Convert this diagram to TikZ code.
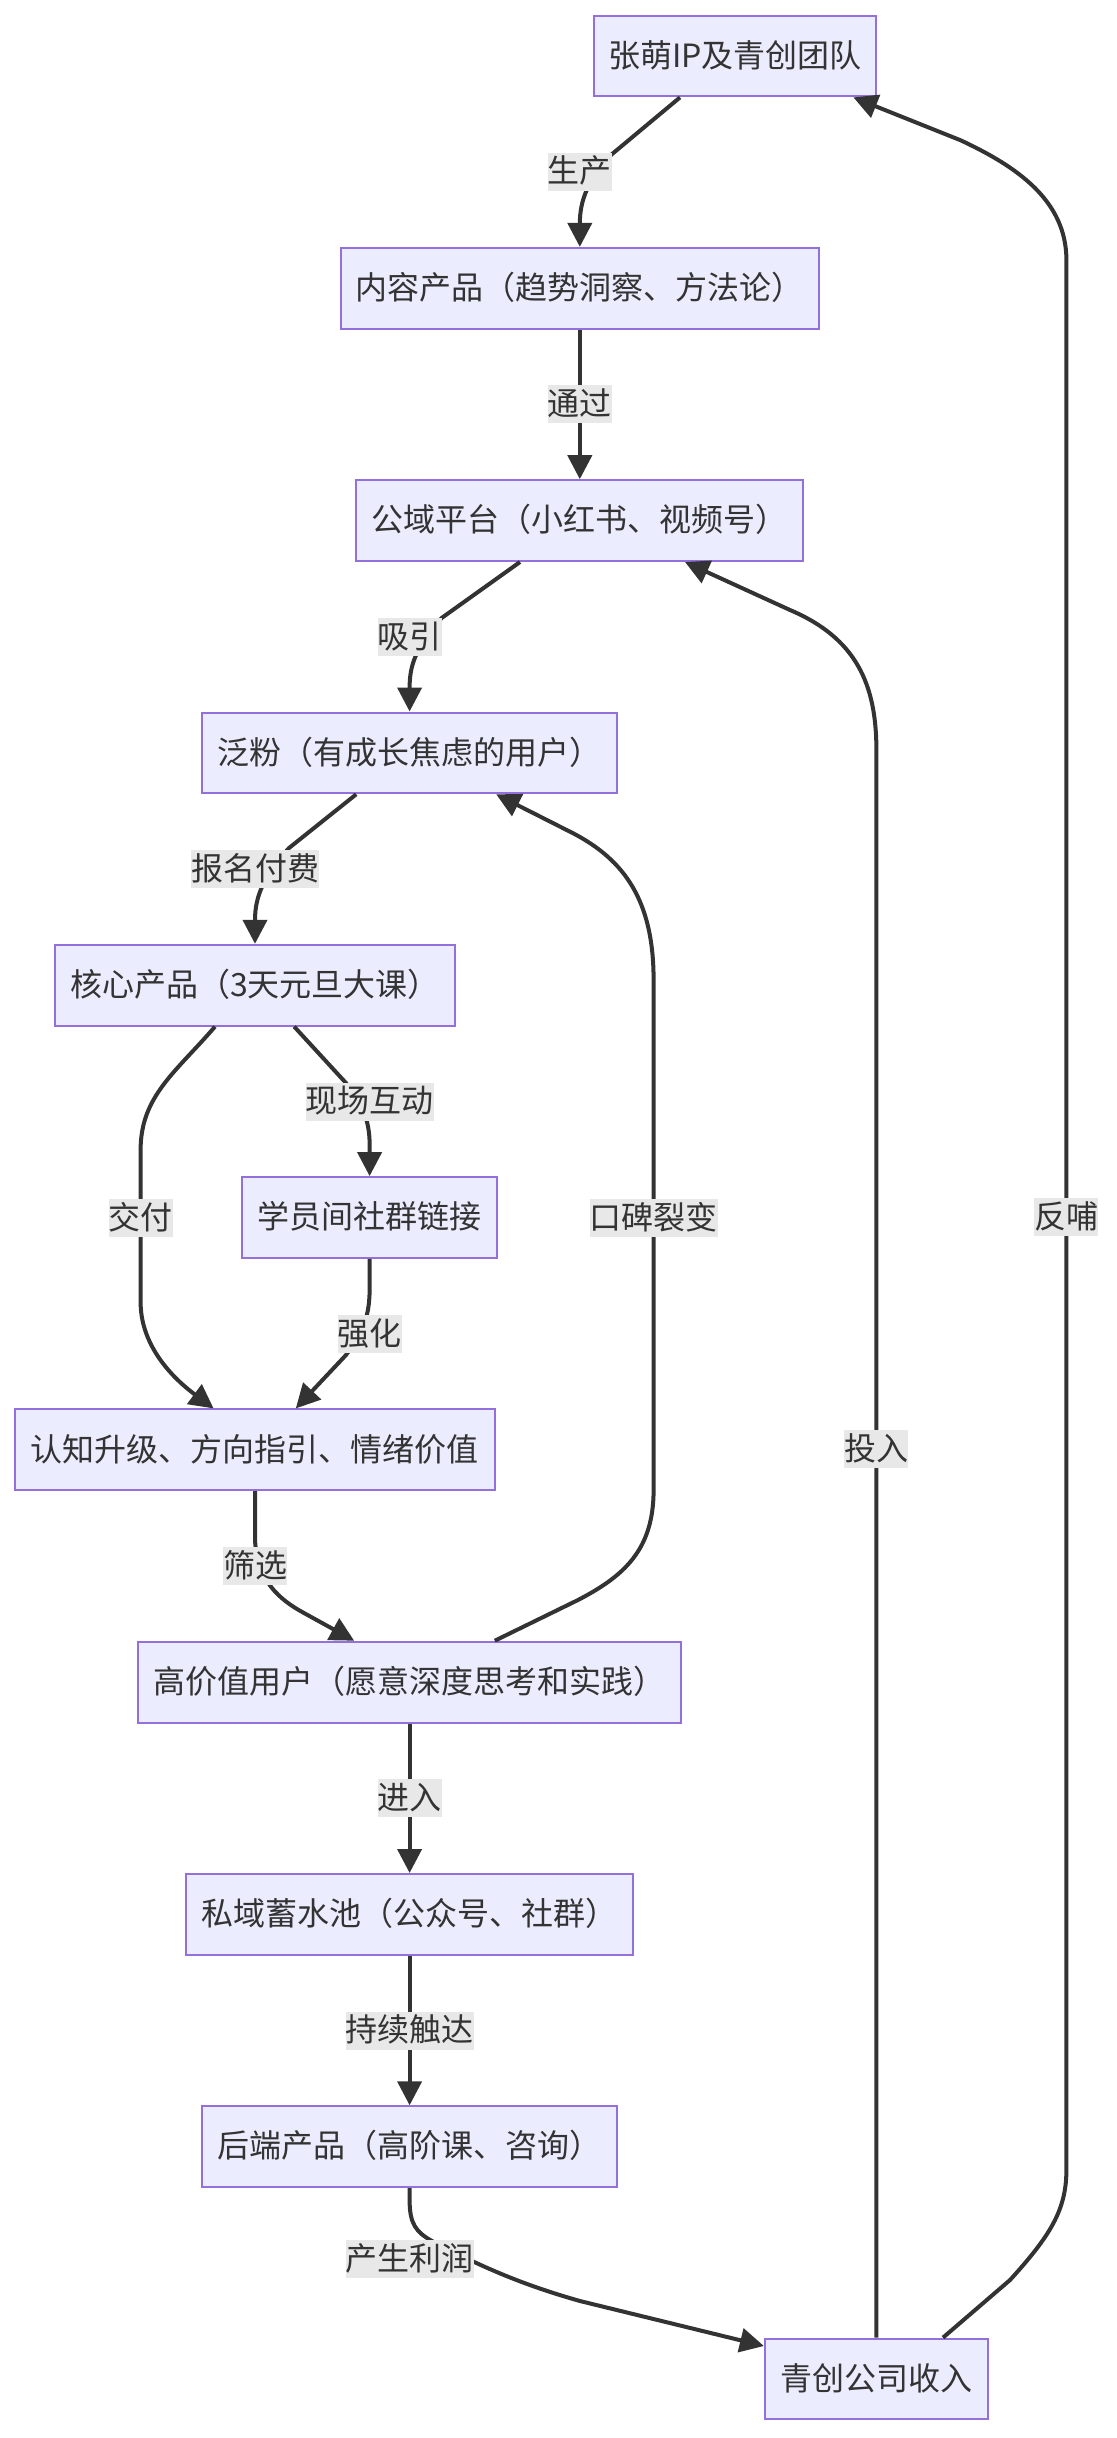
\documentclass[tikz,border=0pt]{standalone}
\usepackage{fontspec}
\setmainfont{Noto Sans CJK SC}
\usetikzlibrary{arrows.meta}
\definecolor{nodefill}{HTML}{ECECFF}
\definecolor{nodeline}{HTML}{9370DB}
\definecolor{edgeline}{HTML}{333333}
\definecolor{lblbg}{HTML}{E8E8E8}
\tikzset{
  box/.style={draw=nodeline, line width=1pt, fill=nodefill, text=edgeline,
    minimum height=40.4pt, inner sep=0pt, font=\fontsize{16pt}{19pt}\selectfont,
    text height=13.6pt, text depth=2.4pt, anchor=center},
  lbl/.style={fill=lblbg, text=edgeline, inner xsep=0pt, inner ysep=0pt,
    minimum height=19pt, font=\fontsize{16pt}{19pt}\selectfont,
    text height=13.6pt, text depth=2.4pt},
  flow/.style={draw=edgeline, line width=2pt, -{Triangle[length=12pt,width=12pt]}},
}
\begin{document}
\begin{tikzpicture}[x=1pt,y=-1pt]
\useasboundingbox (0,0) rectangle (558,1219);
% nodes
\node[box, minimum width=140.6pt] (n1) at (367.5,28) {张萌IP及青创团队};
\node[box, minimum width=239.3pt] (n2) at (289.9,144.15) {内容产品（趋势洞察、方法论）};
\node[box, minimum width=223.5pt] (n3) at (289.9,260.3) {公域平台（小红书、视频号）};
\node[box, minimum width=207.5pt] (n4) at (204.8,376.45) {泛粉（有成长焦虑的用户）};
\node[box, minimum width=199.8pt] (n5) at (127.5,492.6) {核心产品（3天元旦大课）};
\node[box, minimum width=127.6pt] (n6) at (184.8,608.75) {学员间社群链接};
\node[box, minimum width=239.6pt] (n7) at (127.5,724.9) {认知升级、方向指引、情绪价值};
\node[box, minimum width=271.6pt] (n8) at (204.8,841.05) {高价值用户（愿意深度思考和实践）};
\node[box, minimum width=223.4pt] (n9) at (204.8,957.2) {私域蓄水池（公众号、社群）};
\node[box, minimum width=207.3pt] (n10) at (204.8,1073.35) {后端产品（高阶课、咨询）};
\node[box, minimum width=111.5pt] (n11) at (438.2,1189.5) {青创公司收入};
% edges
\draw[flow] ([xshift=-27.5pt]n1.south) -- (305.7,77.3) .. controls (294,90) and (289.9,100) .. (289.9,112) -- (n2.north);
\draw[flow] (n2.south) -- (n3.north);
\draw[flow] ([xshift=-29.9pt]n3.south) -- (220.8,309) .. controls (208,324) and (204.8,332) .. (204.8,344) -- (n4.north);
\draw[flow] ([xshift=-26.7pt]n4.south) -- (144.5,424) .. controls (132,438) and (127.5,448) .. (127.5,460) -- (n5.north);
\draw[flow] ([xshift=-20pt]n5.south) .. controls (88,536) and (70.3,548) .. (70.3,575) -- (70.3,651) .. controls (70.3,672) and (85,688) .. ([xshift=-20.7pt]n7.north);
\draw[flow] ([xshift=19.6pt]n5.south) -- (173,541.5) .. controls (181,552) and (184.8,560) .. (184.8,572) -- (n6.north);
\draw[flow] (n6.south) -- (184.8,645) .. controls (184.8,660) and (180,668) .. (173,677.5) -- ([xshift=20.4pt]n7.north);
\draw[flow] (n7.south) -- (127.5,768) .. controls (127.5,790) and (140,800) .. (152,806.5) -- ([xshift=-27.7pt]n8.north);
\draw[flow] ([xshift=42.6pt]n8.north) -- (289,800) .. controls (312,788) and (326.8,775) .. (326.8,745) -- (326.8,490) .. controls (326.8,450) and (312,430) .. (286.7,416.7) -- ([xshift=43.3pt]n4.south);
\draw[flow] (n8.south) -- (n9.north);
\draw[flow] (n9.south) -- (n10.north);
\draw[flow] (n10.south) -- (204.8,1100) .. controls (204.8,1112) and (208,1116) .. (216,1120.5) .. controls (240,1133) and (260,1142) .. (290,1150.5) -- ([yshift=16.5pt]n11.west);
\draw[flow] (n11.north) -- (438.2,375) .. controls (438.2,342) and (428,319) .. (395,305) -- ([xshift=52.6pt]n3.south);
\draw[flow] ([xshift=33.3pt]n11.north) -- (505,1140) .. controls (525,1118) and (533.2,1105) .. (533.2,1085) -- (533.2,130) .. controls (533.2,100) and (508,83) .. (480,70) -- ([xshift=59.2pt]n1.south);
% labels
\node[lbl] (l1) at (289.9,85.75) {生产};
\node[lbl] (l2) at (289.9,202.2) {通过};
\node[lbl] (l3) at (204.8,318.4) {吸引};
\node[lbl] (l4) at (127.5,434.5) {报名付费};
\node[lbl] (l5) at (184.8,550.8) {现场互动};
\node[lbl] (l6) at (70.3,609) {交付};
\node[lbl] (l7) at (326.8,609) {口碑裂变};
\node[lbl] (l8) at (184.8,667) {强化};
\node[lbl] (l9) at (127.5,783) {筛选};
\node[lbl] (l10) at (204.8,899) {进入};
\node[lbl] (l11) at (204.8,1015.3) {持续触达};
\node[lbl] (l12) at (204.8,1129.5) {产生利润};
\node[lbl] (l13) at (438.2,724.5) {投入};
\node[lbl] (l14) at (533.2,608.5) {反哺};
\end{tikzpicture}
\end{document}
